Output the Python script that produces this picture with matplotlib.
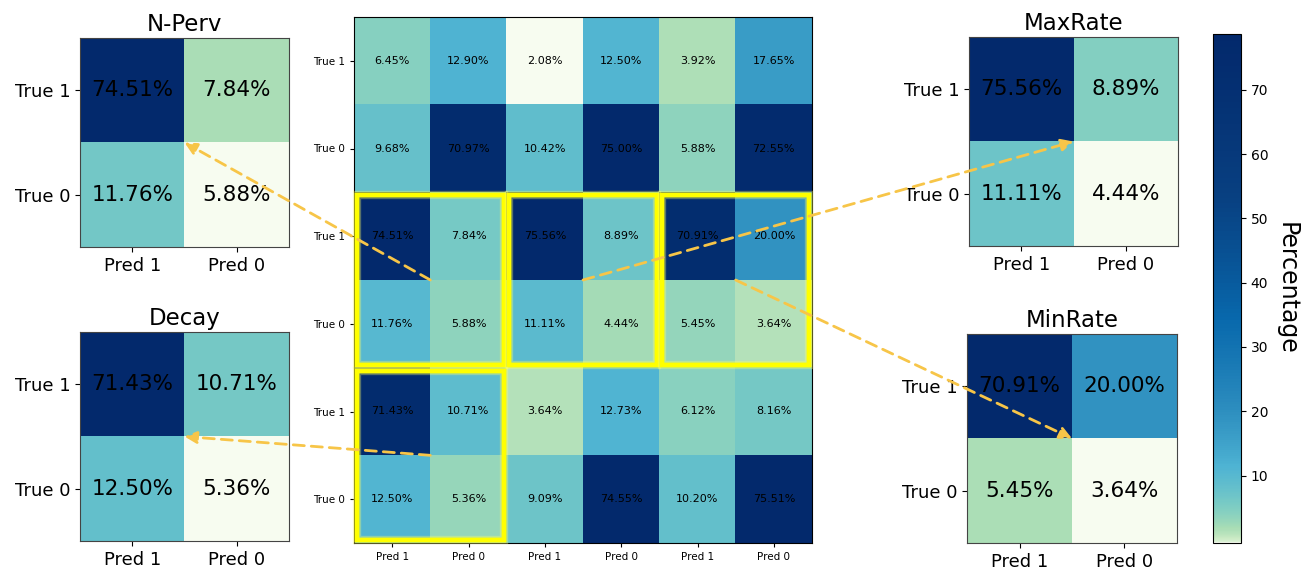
import numpy as np
import matplotlib
matplotlib.use("Agg")
import matplotlib.pyplot as plt
import matplotlib.patheffects as pe
from matplotlib.colors import LinearSegmentedColormap, Normalize, ListedColormap
from matplotlib.patches import Rectangle, ConnectionPatch
from matplotlib.cm import ScalarMappable

# ---------------- data ----------------
center_values = [
    [6.45, 12.90, 2.08, 12.50, 3.92, 17.65],
    [9.68, 70.97, 10.42, 75.00, 5.88, 72.55],
    [74.51, 7.84, 75.56, 8.89, 70.91, 20.00],
    [11.76, 5.88, 11.11, 4.44, 5.45, 3.64],
    [71.43, 10.71, 3.64, 12.73, 6.12, 8.16],
    [12.50, 5.36, 9.09, 74.55, 10.20, 75.51],
]
row_labels = ["True 1", "True 0"] * 3
col_labels = ["Pred 1", "Pred 0"] * 3

nperv_values = [[74.51, 7.84], [11.76, 5.88]]
maxrate_values = [[75.56, 8.89], [11.11, 4.44]]
minrate_values = [[70.91, 20.00], [5.45, 3.64]]
decay_values = [[71.43, 10.71], [12.50, 5.36]]
small_titles = ["N-Perv", "MaxRate", "Decay", "MinRate"]
small_row_labels = ["True 1", "True 0"]
small_col_labels = ["Pred 1", "Pred 0"]
# block (row, col) in the centre grid that each small matrix comes from
small_blocks = [(1, 0), (1, 1), (2, 0), (1, 2)]
highlight_blocks = [(1, 0), (1, 1), (1, 2), (2, 0)]

cbar_ticks = [10, 20, 30, 40, 50, 60, 70]
cbar_range = (-0.5, 78.7)

# ---------------- colormap ----------------
base = LinearSegmentedColormap.from_list(
    "gnbu_dark",
    ["#f7fcf0", "#e0f3db", "#ccebc5", "#a8ddb5", "#7bccc4",
     "#4eb3d3", "#2b8cbe", "#0868ac", "#084081", "#03296c"])
cmap = ListedColormap(base(np.linspace(0, 1, 512) ** 0.31))

W, H = 1311, 573
fig = plt.figure(figsize=(W / 100, H / 100), dpi=100)


def box(l, t, r, b):
    return [l / W, 1 - b / H, (r - l) / W, (b - t) / H]


# ---------------- centre heatmap ----------------
axc = fig.add_axes(box(354, 17, 812, 543))
cv = np.array(center_values)
axc.imshow(cv, cmap=cmap, norm=Normalize(cv.min(), cv.max()), aspect="auto")
for i in range(cv.shape[0]):
    for j in range(cv.shape[1]):
        axc.text(j, i, f"{cv[i, j]:.2f}%", ha="center", va="center",
                 fontsize=8, color="black")
axc.set_xticks(range(6))
axc.set_xticklabels(col_labels, fontsize=7.5)
axc.set_yticks(range(6))
axc.set_yticklabels(row_labels, fontsize=7.5)
axc.tick_params(length=3)

ins = 0.035
for br, bc in highlight_blocks:
    rect = Rectangle((2 * bc - 0.5 + ins, 2 * br - 0.5 + ins), 2 - 2 * ins, 2 - 2 * ins,
                     fill=False, edgecolor="#ffff00", linewidth=3.2, zorder=5,
                     clip_on=False,
                     path_effects=[pe.withStroke(linewidth=6, foreground="#ffff66",
                                                 alpha=0.35), pe.Normal()])
    axc.add_patch(rect)

# ---------------- small matrices ----------------
small_values = [nperv_values, maxrate_values, decay_values, minrate_values]
small_boxes = [box(80, 38, 289, 247), box(969, 37, 1178, 246),
               box(80, 332, 289, 541), box(967, 334, 1177, 543)]
small_axes = []
for vals, title, bx in zip(small_values, small_titles, small_boxes):
    ax = fig.add_axes(bx)
    v = np.array(vals)
    ax.imshow(v, cmap=cmap, norm=Normalize(v.min(), v.max()))
    for i in range(2):
        for j in range(2):
            ax.text(j, i, f"{v[i, j]:.2f}%", ha="center", va="center",
                    fontsize=15.5, color="black")
    ax.set_xticks(range(2))
    ax.set_xticklabels(small_col_labels, fontsize=13)
    ax.set_yticks(range(2))
    ax.set_yticklabels(small_row_labels, fontsize=13)
    for s in ax.spines.values():
        s.set_color("#444444")
    ax.set_title(title, fontsize=16.5, pad=5)
    small_axes.append(ax)

# ---------------- colorbar ----------------
cax = fig.add_axes(box(1213, 34, 1241, 543))
sm = ScalarMappable(norm=Normalize(*cbar_range), cmap=cmap)
cb = fig.colorbar(sm, cax=cax, ticks=cbar_ticks)
cb.ax.tick_params(labelsize=10)
cb.set_label("Percentage", rotation=270, fontsize=17, labelpad=22)

# ---------------- arrows ----------------
for ax, (br, bc) in zip(small_axes, small_blocks):
    cp = ConnectionPatch(xyA=(2 * bc + 0.5, 2 * br + 0.5), coordsA=axc.transData,
                         xyB=(0.5, 0.5), coordsB=ax.transData,
                         arrowstyle="-|>", mutation_scale=18,
                         color="#f7c548", linewidth=2,
                         linestyle=(0, (4, 2.5)), zorder=20)
    fig.add_artist(cp)

fig.savefig("out.png", dpi=100)
